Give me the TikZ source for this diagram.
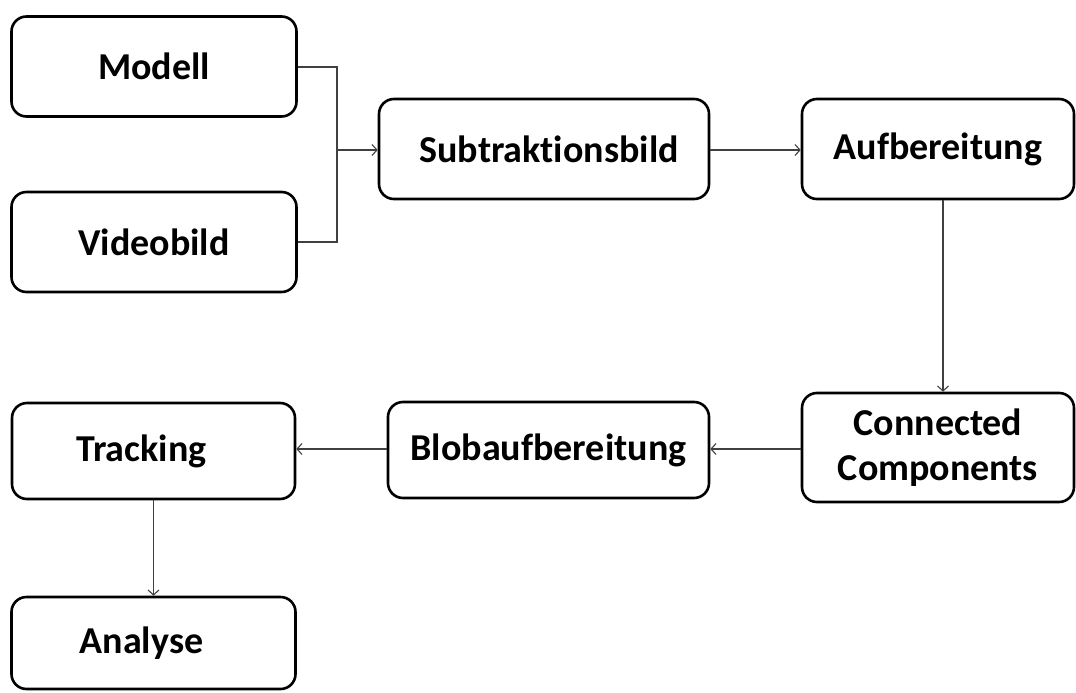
\documentclass[tikz,border=0pt]{standalone}
\usepackage{fontspec}
\setmainfont{Carlito}[Ligatures=NoCommon]
\usetikzlibrary{arrows.meta}
\begin{document}
\begin{tikzpicture}[x=1pt,y=-1pt,
  box/.style={draw=black, line width=2.6pt, rounded corners=15pt, fill=white,
    font=\bfseries\fontsize{38}{45}\selectfont, align=center, inner sep=0pt},
  conn/.style={draw=black!75, line width=1.1pt},
  arr/.style={conn, -{Straight Barb[length=5pt,width=11pt,line width=1.1pt]}}]
\useasboundingbox (0,0) rectangle (1076,693);
\node[box, minimum width=285pt, minimum height=100pt] (modell) at (154,66.5) {Modell};
\node[box, minimum width=285pt, minimum height=100pt] (video) at (154,242) {Videobild};
\node[box, minimum width=330pt, minimum height=100pt] (sub) at (544,149) {\hspace{10pt}Subtraktionsbild};
\node[box, minimum width=272pt, minimum height=100pt] (auf) at (938,149) {Aufbereitung};
\node[box, minimum width=272pt, minimum height=109pt] (cc) at (938,447.5) {Connected\\Components};
\node[box, minimum width=321pt, minimum height=96pt] (blob) at (548.5,450) {Blobaufbereitung};
\node[box, minimum width=283pt, minimum height=96pt] (track) at (153.5,451) {Tracking\hspace{24pt}};
\node[box, minimum width=284pt, minimum height=92pt] (ana) at (153.5,643) {Analyse\hspace{24pt}};
\coordinate (j1) at (337,67);
\coordinate (j2) at (337,242);
\coordinate (jm) at (337,150);
\coordinate (jb) at (760,449);
\draw[conn] (modell.east |- j1) -- (j1) -- (j2) -- (video.east |- j2);
\draw[arr] (jm) -- (sub.west |- jm);
\draw[arr] (sub.east |- jm) -- (auf.west |- jm);
\draw[arr] ([xshift=5pt]auf.south) -- ([xshift=5pt]cc.north);
\draw[arr] (cc.west |- jb) -- (blob.east |- jb);
\draw[arr] (blob.west |- jb) -- (track.east |- jb);
\draw[arr] (track.south) -- (ana.north);
\end{tikzpicture}
\end{document}
